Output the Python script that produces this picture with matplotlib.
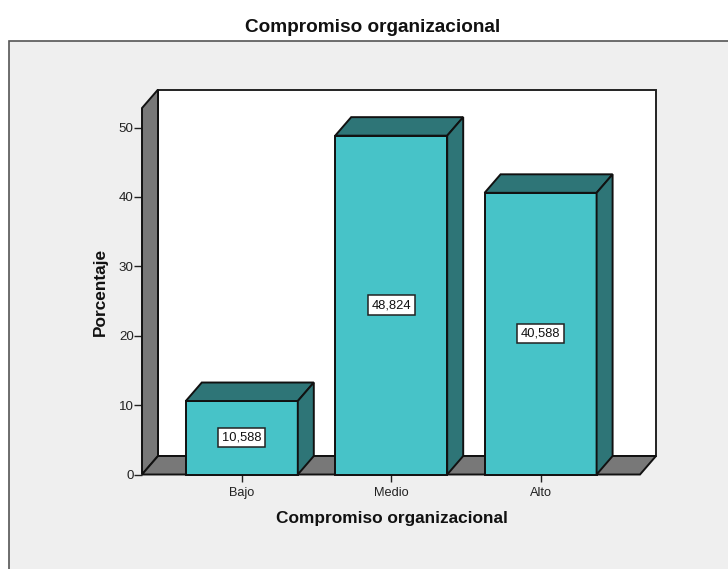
import matplotlib
matplotlib.use("Agg")
import matplotlib.pyplot as plt
from matplotlib.patches import Polygon, Rectangle

plt.rcParams["font.family"] = ["Liberation Sans", "DejaVu Sans"]

categories = ["Bajo", "Medio", "Alto"]
values = [10.588, 48.824, 40.588]
value_labels = ["10,588", "48,824", "40,588"]
y_ticks = [0, 10, 20, 30, 40, 50]

FRONT = "#47c3c8"
DARK = "#2e7577"
WALL = "#787878"
PANEL = "#efefef"
EDGE = "#111111"

W, H = 728, 569
fig = plt.figure(figsize=(W / 100, H / 100), dpi=100, facecolor="white")

# grey chart panel, only top and left border visible
panel = fig.add_axes([0, 0, 1, 1], zorder=0)
panel.set_xlim(0, W)
panel.set_ylim(H, 0)
panel.axis("off")
panel.add_patch(Rectangle((9, 41), W, H, fc=PANEL, ec="#555555", lw=1.2))

# plot frame in pixels: x 142-640, zero at y 474.5, 6.94 px per percent
left, right, y0, py = 142, 640, 474.5, 6.94
top_val = 52.8
ax = fig.add_axes([left / W, 1 - y0 / H, (right - left) / W, top_val * py / H], zorder=1)
ax.patch.set_alpha(0)
px = 149.4
ax.set_xlim((left - 241.8) / px, (right - 241.8) / px)
ax.set_ylim(0, top_val)

dx = 16 / px
dy = 18.5 / py
xl, xr = ax.get_xlim()


def poly(pts, fc, lw=1.4, z=2, ec=EDGE):
    ax.add_patch(Polygon(pts, closed=True, fc=fc, ec=ec, lw=lw, zorder=z, clip_on=False, joinstyle="miter"))


# back wall, side wall, floor
poly([(xl + dx, dy), (xr + dx, dy), (xr + dx, top_val + dy), (xl + dx, top_val + dy)], "white", ec="#222222")
poly([(xl, 0), (xl + dx, dy), (xl + dx, top_val + dy), (xl, top_val)], WALL)
poly([(xl, 0), (xr, 0), (xr + dx, dy), (xl + dx, dy)], WALL)

bar_w = 112 / px
for i, (v, lab) in enumerate(zip(values, value_labels)):
    a, b = i - bar_w / 2, i + bar_w / 2
    poly([(a, 0), (b, 0), (b, v), (a, v)], FRONT, z=3)
    poly([(a, v), (b, v), (b + dx, v + dy), (a + dx, v + dy)], DARK, z=3)
    poly([(b, 0), (b + dx, dy), (b + dx, v + dy), (b, v)], DARK, z=3)
    ax.text(i, v / 2, lab, ha="center", va="center", fontsize=9.3, color="#111111", zorder=5,
            bbox=dict(boxstyle="square,pad=0.28", fc="white", ec="#222222", lw=1.1))

ax.set_xticks(range(len(categories)))
ax.set_xticklabels(categories, fontsize=9.2, color="#222222")
ax.set_yticks(y_ticks)
ax.set_yticklabels([str(t) for t in y_ticks], fontsize=9.6, color="#222222")
ax.tick_params(axis="y", length=5.5, width=1, pad=0.5, color="#222222")
ax.tick_params(axis="x", length=5, width=1, pad=4, color="#222222")
for s in ax.spines.values():
    s.set_visible(False)

panel.text(372.5, 27, "Compromiso organizacional", ha="center", va="center", fontsize=13.7, fontweight="bold", color="#111111")
panel.text(391.5, 518.5, "Compromiso organizacional", ha="center", va="center", fontsize=12.4, fontweight="bold", color="#111111")
panel.text(100.5, 292, "Porcentaje", ha="center", va="center", rotation=90, fontsize=12.4, fontweight="bold", color="#111111")

fig.savefig("out.png", dpi=100, facecolor="white")
